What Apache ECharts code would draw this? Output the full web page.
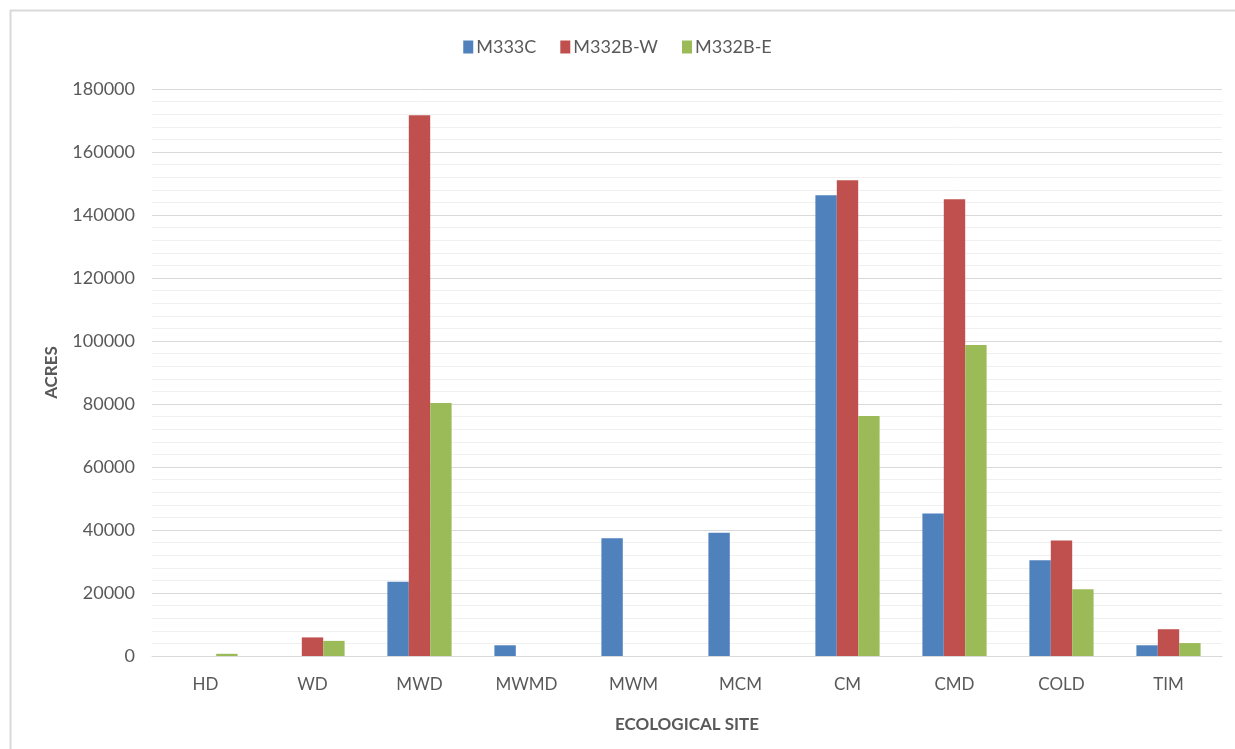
<!DOCTYPE html>
<html>
<head>
<meta charset="utf-8">
<script src="https://cdn.jsdelivr.net/npm/echarts@6/dist/echarts.min.js"></script>
<style>
  html, body { margin: 0; padding: 0; background: #fff; }
  #chart { width: 1235px; height: 749px; }
</style>
</head>
<body>
<div id="chart"></div>
<script>
// Acreage by ecological site for three ecological subsections
const categories = ['HD', 'WD', 'MWD', 'MWMD', 'MWM', 'MCM', 'CM', 'CMD', 'COLD', 'TIM'];
const seriesNames = ['M333C', 'M332B-W', 'M332B-E'];
const m333c  = [0,   0,    23600,  3400, 37400, 39100, 146300, 45200,  30400, 3400];
const m332bW = [0,   5900, 171700, 0,    0,     0,     151000, 145000, 36700, 8500];
const m332bE = [700, 4800, 80300,  0,    0,     0,     76200,  98700,  21200, 4100];
const colors = ['#4f81bd', '#c0504d', '#9bbb59'];

const FONT = 'Lato, "Open Sans", sans-serif';
const chart = echarts.init(document.getElementById('chart'));

function bar(name, data, color) {
  return {
    name: name,
    type: 'bar',
    data: data,
    barGap: '0%',
    barCategoryGap: '40%',
    itemStyle: { color: color }
  };
}

chart.setOption({
  animation: false,
  color: colors,
  graphic: [{
    type: 'rect',
    shape: { x: 10.5, y: 10.5, width: 1240, height: 760 },
    style: { fill: 'none', stroke: '#d9d9d9', lineWidth: 2 },
    silent: true
  }],
  legend: {
    top: 33,
    left: 'center',
    itemWidth: 10,
    itemHeight: 13,
    itemGap: 24,
    icon: 'rect',
    textStyle: { fontFamily: FONT, fontSize: 18, color: '#595959', padding: [0, 0, 0, -2] },
    data: seriesNames
  },
  grid: { left: 152, right: 13, top: 89, bottom: 93, containLabel: false },
  xAxis: {
    type: 'category',
    data: categories,
    name: 'ECOLOGICAL SITE',
    nameLocation: 'middle',
    nameGap: 60,
    nameTextStyle: { fontFamily: FONT, fontSize: 17, fontWeight: 'bold', color: '#595959' },
    axisLine: { lineStyle: { color: '#d9d9d9', width: 1 } },
    axisTick: { show: false },
    axisLabel: { fontFamily: FONT, fontSize: 17, color: '#595959', margin: 20 }
  },
  yAxis: {
    type: 'value',
    min: 0,
    max: 180000,
    interval: 20000,
    name: 'ACRES',
    nameLocation: 'middle',
    nameGap: 92,
    nameTextStyle: { fontFamily: FONT, fontSize: 17, fontWeight: 'bold', color: '#595959' },
    axisLine: { show: false },
    axisTick: { show: false },
    axisLabel: { fontFamily: FONT, fontSize: 18, color: '#595959', margin: 17, formatter: v => String(v) },
    splitLine: { lineStyle: { color: '#d9d9d9', width: 1 } },
    minorTick: { show: false, splitNumber: 5 },
    minorSplitLine: { show: true, lineStyle: { color: '#f0f0f0', width: 1 } }
  },
  series: [
    bar(seriesNames[0], m333c, colors[0]),
    bar(seriesNames[1], m332bW, colors[1]),
    bar(seriesNames[2], m332bE, colors[2])
  ]
});
</script>
</body>
</html>
